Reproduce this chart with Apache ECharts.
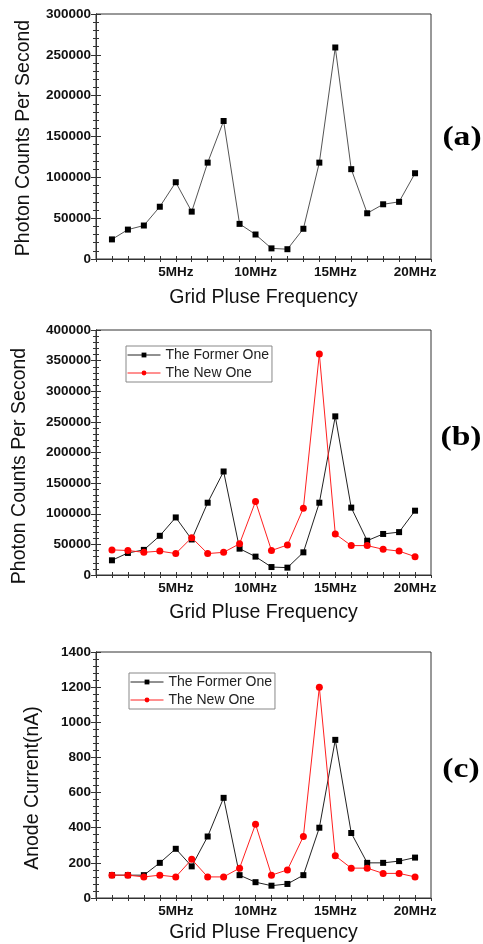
<!DOCTYPE html>
<html>
<head>
<meta charset="utf-8">
<script src="https://cdn.jsdelivr.net/npm/echarts@6/dist/echarts.min.js"></script>
<style>
html,body{margin:0;padding:0;background:#fff;}
#chart{width:483px;height:944px;}
</style>
</head>
<body>
<div id="chart"></div>
<script>
// Frequency (MHz)
var freq = [1,2,3,4,5,6,7,8,9,10,11,12,13,14,15,16,17,18,19,20];
// (a) and (b): photon counts per second
var countsFormer = [24000,36000,41000,64000,94000,58000,118000,169000,43000,30000,13000,12000,37000,118000,259000,110000,56000,67000,70000,105000];
var countsNew = [41000,40000,37000,39000,35000,61000,35000,37000,51000,120000,40000,49000,109000,361000,67000,48000,48000,42000,39000,30000];
// (c): anode current (nA)
var currentFormer = [130,130,130,200,280,180,350,570,130,90,70,80,130,400,900,370,200,200,210,230];
var currentNew = [130,130,120,130,120,220,120,120,170,420,130,160,350,1200,240,170,170,140,140,120];
// tick labels
var xTickValues = [5,10,15,20];
var xTickSuffix = 'MHz';
var legendNames = ['The Former One','The New One'];
var panelLabels = ['(a)','(b)','(c)'];
var xTitle = 'Grid Pluse Frequency';
var yTitles = ['Photon Counts Per Second','Photon Counts Per Second','Anode Current(nA)'];

function pairs(xs, ys){ return xs.map(function(x,i){ return [x, ys[i]]; }); }

var AX = '#333';
var grids = [
  {left:96, top:14, width:335, height:245},
  {left:96, top:330, width:335, height:245},
  {left:96, top:652, width:335, height:246}
];
var yMax = [300000, 400000, 1400];
var yInt = [50000, 50000, 200];
var xNameGap = [29, 28, 25];

var xAxes = [], yAxes = [];
grids.forEach(function(g, i){
  g.show = true; g.borderColor = AX; g.borderWidth = 1; g.containLabel = false;
  xAxes.push({
    type:'value', gridIndex:i, min:0, max:21, interval:1, position:'bottom',
    name: xTitle, nameLocation:'middle', nameGap: xNameGap[i],
    nameTextStyle:{fontFamily:'Liberation Sans', fontSize:19.5, color:'#111'},
    axisLine:{show:true, lineStyle:{color:AX, width:1}},
    axisTick:{show:true, inside:true, length:3, lineStyle:{color:AX}},
    splitLine:{show:false},
    axisLabel:{margin:6, fontFamily:'Liberation Sans', fontWeight:'bold', fontSize:13.5, color:'#111',
      showMinLabel:false, showMaxLabel:false,
      formatter:function(v){ return xTickValues.indexOf(v) >= 0 ? v + xTickSuffix : ''; }}
  });
  xAxes.push({
    type:'value', gridIndex:i, min:0, max:21, interval:1, position:'top',
    axisLine:{show:true, lineStyle:{color:AX, width:1}},
    axisTick:{show:true, inside:true, length:3, lineStyle:{color:AX}},
    splitLine:{show:false}, axisLabel:{show:false}
  });
  yAxes.push({
    type:'value', gridIndex:i, min:0, max:yMax[i], interval:yInt[i], position:'left',
    axisLine:{show:true, lineStyle:{color:AX, width:1}},
    axisTick:{show:true, inside:true, length:5, lineStyle:{color:AX}},
    minorTick:{show:true, splitNumber:5, length:3, lineStyle:{color:AX}},
    splitLine:{show:false}, minorSplitLine:{show:false},
    axisLabel:{margin:5, fontFamily:'Liberation Sans', fontWeight:'bold', fontSize:13.5, color:'#111',
      formatter:function(v){ return String(v); }}
  });
  yAxes.push({
    type:'value', gridIndex:i, min:0, max:yMax[i], interval:yInt[i], position:'right',
    axisLine:{show:true, lineStyle:{color:AX, width:1}},
    axisTick:{show:true, inside:true, length:5, lineStyle:{color:AX}},
    minorTick:{show:true, splitNumber:5, length:3, lineStyle:{color:AX}},
    splitLine:{show:false}, minorSplitLine:{show:false},
    axisLabel:{show:false}
  });
});

function former(name, data, gi, lineColor){
  return {type:'line', name:name, xAxisIndex:gi*2, yAxisIndex:gi*2, data:data,
    symbol:'rect', symbolSize:6, showSymbol:true,
    itemStyle:{color:'#000'}, lineStyle:{color:lineColor, width:1}, animation:false, z:3};
}
function newer(name, data, gi){
  return {type:'line', name:name, xAxisIndex:gi*2, yAxisIndex:gi*2, data:data,
    symbol:'circle', symbolSize:7, showSymbol:true,
    itemStyle:{color:'#ff0000'}, lineStyle:{color:'#ff2020', width:1}, animation:false, z:4};
}

var series = [
  former('Photon Counts', pairs(freq, countsFormer), 0, '#555'),
  former(legendNames[0], pairs(freq, countsFormer), 1, '#222'),
  newer(legendNames[1], pairs(freq, countsNew), 1),
  former(legendNames[0], pairs(freq, currentFormer), 2, '#222'),
  newer(legendNames[1], pairs(freq, currentNew), 2)
];

function legend(left, top){
  return {data:legendNames, orient:'vertical', left:left, top:top,
    itemWidth:33, itemHeight:6, itemGap:2, padding:[1,3,1,1],
    borderColor:'#888', borderWidth:1, selectedMode:false,
    lineStyle:{width:1},
    textStyle:{fontFamily:'Liberation Sans', fontSize:14, color:'#222', lineHeight:16}};
}

var yTitlePos = [[24,138],[19.5,466],[33,788]];
var panelPos = [[462,138],[461,438],[461,770]];
var graphic = [];
yTitles.forEach(function(t,i){
  graphic.push({type:'text', x:yTitlePos[i][0], y:yTitlePos[i][1], rotation:Math.PI/2,
    style:{text:t, fontFamily:'Liberation Sans', fontSize:19.5, fill:'#111', align:'center', verticalAlign:'middle'}});
});
panelLabels.forEach(function(t,i){
  graphic.push({type:'text', x:panelPos[i][0], y:panelPos[i][1], scaleX:1.2,
    style:{text:t, fontFamily:'Liberation Serif', fontWeight:'bold', fontSize:28, fill:'#000', align:'center', verticalAlign:'middle'}});
});

var chart = echarts.init(document.getElementById('chart'), null, {renderer:'canvas'});
chart.setOption({
  backgroundColor:'#fff',
  animation:false,
  grid:grids,
  xAxis:xAxes,
  yAxis:yAxes,
  legend:[legend(126,346), legend(129,673)],
  series:series,
  graphic:graphic
});
</script>
</body>
</html>
